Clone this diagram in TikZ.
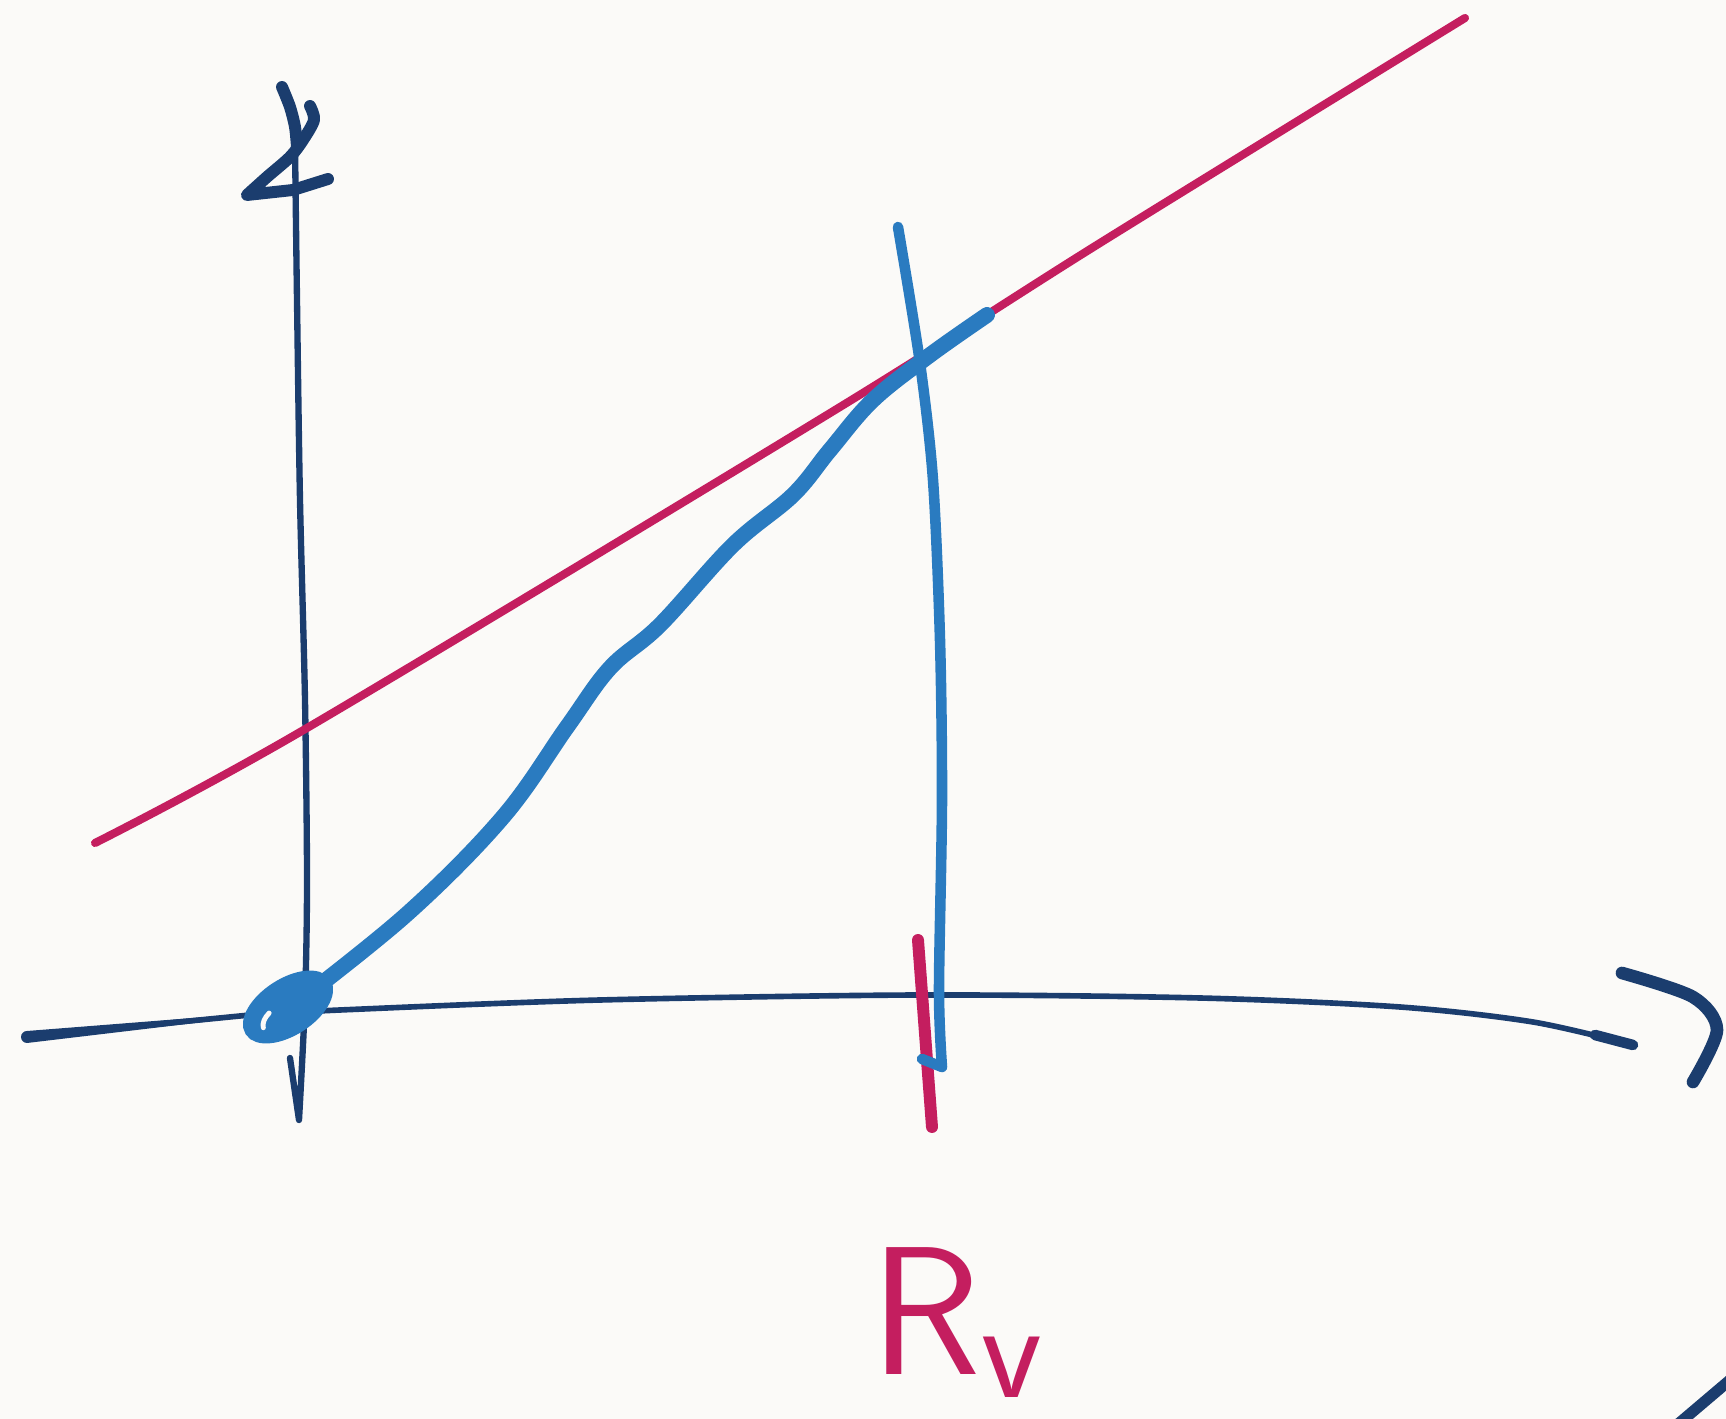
\documentclass[tikz,border=0pt]{standalone}
\usepackage{xcolor}
\usepackage{tikz}
\usetikzlibrary{positioning,calc}
\definecolor{paper}{HTML}{FBFAF8}
\definecolor{ink}{HTML}{1B3D6E}
\definecolor{magenta}{HTML}{C41E5F}
\definecolor{pen}{HTML}{2A7BC0}
\tikzset{
  axisline/.style={draw=ink, line width=#1, line cap=round, line join=round},
  axisline/.default=1.8pt,
  fitline/.style={draw=magenta, line width=2.3pt, line cap=round},
  profile/.style={draw=pen, line width=#1, line cap=round, line join=round},
  profile/.default=4.5pt,
  rmark/.style={draw=magenta, line width=3.4pt, line cap=round},
  rlabel/.style={text=magenta, font=\sffamily\fontsize{52}{52}\selectfont,
    inner sep=0pt, anchor=base west},
}

\begin{document}
\begin{tikzpicture}[x={(0.01cm,0)}, y={(0,-0.01cm)}]
  \fill[paper] (0,0) rectangle (1726,1419);
  \useasboundingbox (0,0) rectangle (1726,1419);
  % axes
  \draw[axisline] plot[smooth] coordinates {(295,145) (297,300) (300,500)
    (305,700) (307,880) (305,1000) (299,1120)} -- (290,1058);
  \draw[axisline=1.6pt] (27,1037) -- (250,1015) plot[smooth] coordinates {(250,1015)
    (340,1010) (600,1000) (920,995) (1200,998) (1400,1007) (1533,1022) (1633,1045)};
  \fill[ink] (27,1031) -- (250,1013.5) -- (250,1016.5) -- (27,1043) -- cycle
    (27,1037) circle [radius=6];
  \draw[axisline=3pt] (1595,1035) -- (1633,1045);
  \draw[axisline=3.6pt] plot[smooth] coordinates {(1622,973) (1693,997)
    (1717,1030) (1693,1082)};
  \draw[axisline=3.4pt] plot[smooth] coordinates {(282,87) (290,107) (295,127) (297,147)};
  \draw[axisline=3.4pt] plot[smooth] coordinates {(310,106) (314,120) (303,140)
    (290,157) (267,177) (247,195)} -- (293,190) -- (328,179);
  \draw[axisline=3.2pt] (1677,1425) -- (1730,1380);
  % fit line
  \draw[fitline] plot[smooth] coordinates {(95,843) (307,728) (840,407)
    (1100,243) (1465,18)};
  \draw[rmark] (918,940) -- (932,1127);
  % radius line
  \draw[profile=3pt] plot[smooth] coordinates {(898,227) (920,363) (933,480)
    (940,640) (942,800) (939,990) (942,1067)} -- (922,1059);
  % profile
  \draw[profile] plot[smooth, tension=0.6] coordinates {(290,1008) (407,914)
    (503,817) (567,727) (610,668) (660,625) (733,545) (793,495) (830,450)
    (873,400) (930,355) (987,315)};
  \begin{scope}[shift={(288,1007)}, rotate=33]
    \filldraw[pen, line width=3pt] (0,0) ellipse [x radius=45, y radius=23];
    \draw[paper, line width=1.4pt, line cap=round] (-32,4) arc [start angle=190,
      end angle=250, x radius=20, y radius=12];
  \end{scope}
  \node[rlabel] (rvlabel) at (870,1375) {R\raisebox{-0.22cm}{\fontsize{40}{40}\selectfont v}};
\end{tikzpicture}
\end{document}
